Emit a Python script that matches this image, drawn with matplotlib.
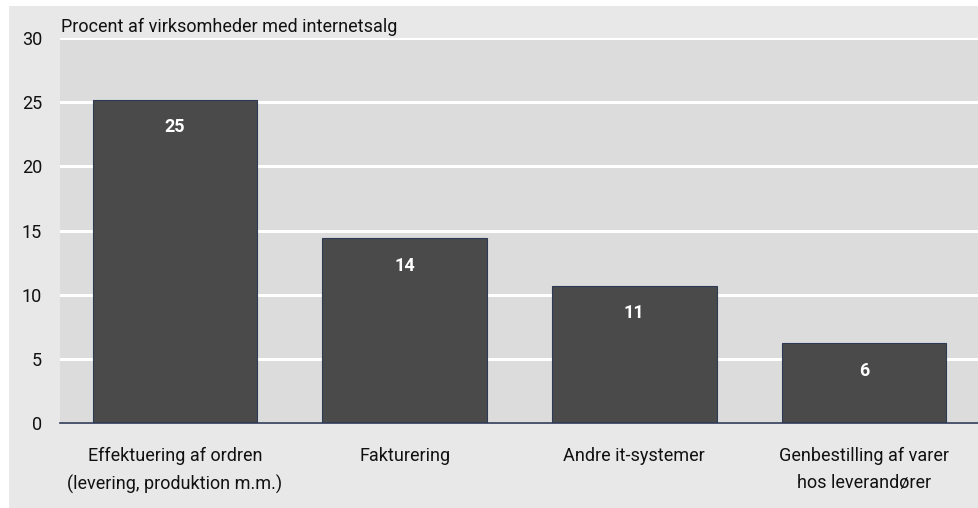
import matplotlib
matplotlib.use("Agg")
import matplotlib.pyplot as plt
from matplotlib.patches import Rectangle

# data
categories = ["Effektuering af ordren\n(levering, produktion m.m.)", "Fakturering",
              "Andre it-systemer", "Genbestilling af varer\nhos leverandører"]
values = [25.2, 14.4, 10.7, 6.2]
labels = ["25", "14", "11", "6"]
yticks = [0, 5, 10, 15, 20, 25, 30]

plt.rcParams['font.family'] = ['Roboto', 'DejaVu Sans']

fig = plt.figure(figsize=(9.79, 5.08), dpi=100, facecolor='white')
# outer grey panel
fig.patches.append(Rectangle((9 / 979, 0), 1 - 9 / 979, 1 - 6 / 508,
                             transform=fig.transFigure, facecolor='#e8e8e8',
                             edgecolor='none', zorder=-5))

ax = fig.add_axes([60 / 979, 85 / 508, 1 - 60 / 979, (423 - 38) / 508])
ax.set_zorder(2)
ax.set_facecolor('#dcdcdc')

x = range(len(categories))
ax.bar(x, values, width=0.715, color='#4a4a4a', edgecolor='#2e3a55',
       linewidth=0.8, zorder=3)

for xi, v, lab in zip(x, values, labels):
    ax.annotate(lab, (xi, v), xytext=(0, -20), textcoords='offset points',
                ha='center', va='center', color='white', fontsize=13,
                fontweight='bold', zorder=4)

ax.set_xlim(-0.5, 3.5)
ax.set_ylim(0, 30)
ax.set_yticks(yticks)
ax.set_xticks(list(x))
ax.set_xticklabels(categories, fontsize=13, color='#111111', linespacing=1.65)
ax.tick_params(axis='y', length=0, pad=13, labelsize=13, labelcolor='#111111')
ax.tick_params(axis='x', length=0, pad=17)
ax.yaxis.grid(True, color='white', linewidth=2.2, zorder=1)
ax.set_axisbelow(True)

for side in ['top', 'right', 'left']:
    ax.spines[side].set_visible(False)
ax.spines['bottom'].set_color('#2e3a55')
ax.spines['bottom'].set_linewidth(1.2)
ax.spines['bottom'].set_zorder(5)

fig.text(61 / 979, 1 - 27 / 508, "Procent af virksomheder med internetsalg",
         fontsize=13, color='#111111', va='center', ha='left', zorder=3)

fig.savefig("out.png", dpi=100, facecolor=fig.get_facecolor())
